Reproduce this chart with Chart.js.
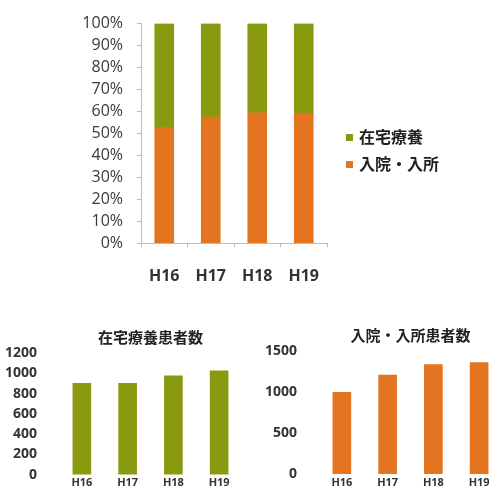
<!DOCTYPE html>
<html lang="ja">
<head>
  <meta charset="UTF-8">
  <title>在宅療養・入院入所患者数</title>
  <script src="https://cdn.jsdelivr.net/npm/chart.js"></script>
  <style>
    html, body { margin: 0; padding: 0; background: #fff; overflow: hidden; }
    body { width: 489px; height: 497px; position: relative; font-family: "Noto Sans CJK JP", sans-serif; }
    canvas { position: absolute; }
    #shareChart { left: 0; top: 0; }
    #homeChart { left: 0; top: 310px; }
    #inpatientChart { left: 250px; top: 310px; }
    .legend { position: absolute; left: 346px; top: 123px; font-size: 16px; font-weight: bold; color: #222; }
    .legend div { height: 27px; line-height: 27px; white-space: nowrap; }
    .legend span { display: inline-block; width: 7px; height: 7px; margin-right: 6px; vertical-align: middle; position: relative; top: -1px; }
  </style>
</head>
<body>
  <canvas id="shareChart" width="489" height="300"></canvas>
  <div class="legend" id="shareLegend"></div>
  <canvas id="homeChart" width="245" height="187"></canvas>
  <canvas id="inpatientChart" width="260" height="187"></canvas>

  <script>
    const years = ['H16', 'H17', 'H18', 'H19'];

    // 構成比 (%)
    const inpatientShare = [52.8, 57.4, 59.4, 59.0];
    const homeShare = [47.2, 42.6, 40.6, 41.0];

    // 患者数
    const homeCount = [900, 900, 975, 1025];
    const inpatientCount = [1000, 1210, 1340, 1365];

    const homeLabel = '在宅療養';
    const inpatientLabel = '入院・入所';
    const homeTitle = '在宅療養患者数';
    const inpatientTitle = '入院・入所患者数';

    const green = '#8a9a10';
    const orange = '#e37520';
    const axisColor = '#b3bfcd';
    const latin = '"Open Sans", "Noto Sans CJK JP", sans-serif';
    const cjk = '"Noto Sans CJK JP", sans-serif';

    // 上段: 100% 積み上げ
    new Chart(document.getElementById('shareChart'), {
      type: 'bar',
      data: {
        labels: years,
        datasets: [
          { label: inpatientLabel, data: inpatientShare, backgroundColor: orange, barThickness: 19 },
          { label: homeLabel, data: homeShare, backgroundColor: green, barThickness: 19 }
        ]
      },
      options: {
        responsive: false,
        animation: false,
        layout: { padding: { left: 40, right: 162, top: 19, bottom: 0 } },
        plugins: { legend: { display: false }, tooltip: { enabled: false } },
        scales: {
          x: {
            stacked: true,
            grid: { drawOnChartArea: false, tickLength: 4, color: axisColor },
            border: { color: axisColor },
            ticks: { color: '#333', padding: 20, font: { family: latin, size: 16, weight: 'bold' } },
            afterFit: s => { s.height = 300 - 243.3; }
          },
          y: {
            stacked: true,
            min: 0,
            max: 100,
            grid: { drawOnChartArea: false, tickLength: 4, color: axisColor },
            border: { color: axisColor },
            ticks: {
              stepSize: 10,
              autoSkip: false,
              padding: 14,
              color: '#3a3a3a',
              font: { family: latin, size: 16 },
              callback: v => v + '%'
            },
            afterFit: s => { s.width = 141 - 40; }
          }
        }
      }
    });

    // 凡例 (積み上げの上から順)
    const legendEl = document.getElementById('shareLegend');
    [[homeLabel, green], [inpatientLabel, orange]].forEach(([text, color]) => {
      const row = document.createElement('div');
      const box = document.createElement('span');
      box.style.background = color;
      row.appendChild(box);
      row.appendChild(document.createTextNode(text));
      legendEl.appendChild(row);
    });

    function countChart(id, title, values, color, max, step, pad, yWidth, xHeight) {
      return new Chart(document.getElementById(id), {
        type: 'bar',
        data: {
          labels: years,
          datasets: [{ label: title, data: values, backgroundColor: color, barThickness: 18 }]
        },
        options: {
          responsive: false,
          animation: false,
          layout: { padding: pad },
          plugins: {
            legend: { display: false },
            tooltip: { enabled: false },
            title: {
              display: true,
              text: title,
              fullSize: false,
              color: '#222',
              font: { family: cjk, size: 15, weight: 'bold' },
              padding: { top: 0, bottom: pad.titleGap }
            }
          },
          scales: {
            x: {
              grid: { display: false },
              border: { display: false },
              ticks: { color: '#333', padding: -6, font: { family: latin, size: 11, weight: 'bold' } },
              afterFit: s => { s.height = xHeight; }
            },
            y: {
              min: 0,
              max: max,
              grid: { display: false },
              border: { display: false },
              ticks: {
                stepSize: step,
                autoSkip: false,
                padding: 14,
                color: '#333',
                font: { family: latin, size: 14, weight: 'bold' },
                callback: v => String(v)
              },
              afterFit: s => { s.width = yWidth; }
            }
          }
        }
      });
    }

    countChart('homeChart', homeTitle, homeCount, green, 1200, 200,
      { left: 0, right: 3, top: 18, bottom: 0, titleGap: 7 }, 59, 22);
    countChart('inpatientChart', inpatientTitle, inpatientCount, orange, 1500, 500,
      { left: 0, right: 8, top: 16, bottom: 0, titleGap: 7.5 }, 69, 23);
  </script>
</body>
</html>
